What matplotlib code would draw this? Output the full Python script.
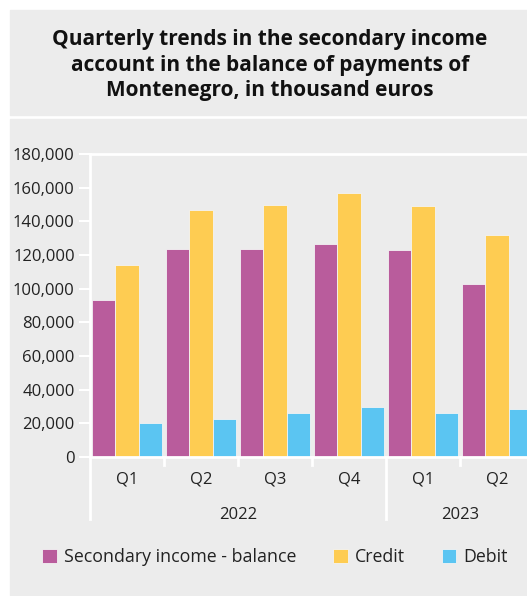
import numpy as np
import matplotlib.pyplot as plt
from matplotlib.patches import Rectangle

# quarterly secondary income account, thousand euros
quarters = ['Q1', 'Q2', 'Q3', 'Q4', 'Q1', 'Q2']
years = ['2022', '2023']
year_span = [(0, 4), (4, 6)]
balance = [93300, 123800, 123400, 126600, 123000, 102800]
credit = [114100, 146900, 150000, 156600, 149400, 132000]
debit = [20400, 22600, 26200, 29600, 26000, 28800]

series = [('Secondary income - balance', balance, '#b95c9c'),
          ('Credit', credit, '#fecc52'),
          ('Debit', debit, '#5bc5f2')]

plt.rcParams['font.family'] = ['Open Sans', 'DejaVu Sans']
bg = '#ececec'
W, H = 527, 596

fig = plt.figure(figsize=(W / 100, H / 100), dpi=100)
fig.patch.set_facecolor('white')

# two grey panels: title block and chart block
fig.patches.append(Rectangle((10 / W, 1 - 115 / H), 517 / W, 105 / H,
                             transform=fig.transFigure, color=bg, zorder=-10))
fig.patches.append(Rectangle((10 / W, 1 - 595 / H), 517 / W, 476 / H,
                             transform=fig.transFigure, color=bg, zorder=-10))

fig.text(270 / W, 1 - 65 / H,
         'Quarterly trends in the secondary income\naccount in the balance of payments of\nMontenegro, in thousand euros',
         ha='center', va='center', fontsize=15, fontweight='bold',
         color='#111111', linespacing=1.3)

ax = fig.add_axes([90 / W, 1 - 457 / H, 444 / W, 303 / H])
ax.set_facecolor(bg)

x = np.arange(len(quarters)) + 0.5
bw = 0.311
for k, (label, vals, col) in enumerate(series):
    ax.bar(x + (k - 1) * bw, vals, width=bw, color=col, label=label,
           edgecolor='#f3f3f3', linewidth=0.6, zorder=2)

ax.set_xlim(0, 6)
ax.set_ylim(0, 180000)
ax.set_yticks(np.arange(0, 180001, 20000))
ax.set_yticklabels([f'{v:,}' for v in range(0, 180001, 20000)])
ax.tick_params(axis='y', colors='white', length=8, width=1.5, pad=3,
               labelsize=12, labelcolor='#222222')
ax.set_xticks([])

ax.spines['right'].set_visible(False)
for side in ['left', 'bottom', 'top']:
    ax.spines[side].set_color('white')
    ax.spines[side].set_linewidth(2)
    ax.spines[side].set_zorder(3)

# category axis: quarter labels, group ticks, year dividers
tr = ax.get_xaxis_transform()
for xi, q in zip(x, quarters):
    ax.text(xi, -22 / 303, q, transform=tr, ha='center', va='center',
            fontsize=12, color='#222222')
for b in [1, 2, 3, 5]:
    ax.plot([b, b], [0, -8 / 303], transform=tr, color='white', lw=2,
            clip_on=False)
for (a, b), yr in zip(year_span, years):
    ax.plot([a, a], [0, -62 / 303], transform=tr, color='white', lw=2,
            clip_on=False)
    ax.text((a + b) / 2, -58 / 303, yr, transform=tr, ha='center',
            va='center', fontsize=12, color='#222222')

fig.legend(loc='center', bbox_to_anchor=(275 / W, 1 - 557 / H), ncol=3,
           frameon=False, handlelength=0.8, handleheight=0.8,
           handletextpad=0.4, columnspacing=2.1, fontsize=12.8,
           labelcolor='#222222')

fig.savefig('out.png', dpi=100)
